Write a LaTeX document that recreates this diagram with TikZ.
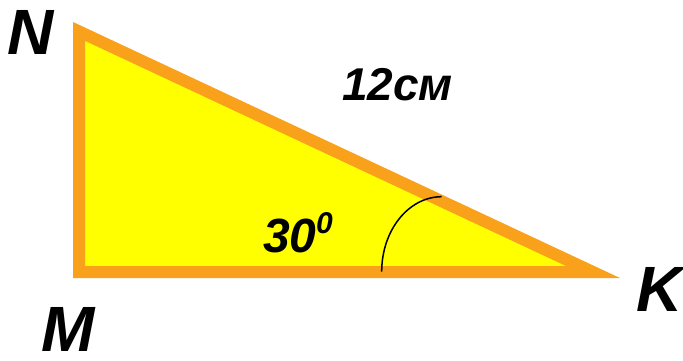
\documentclass[tikz,border=0pt]{standalone}
\usepackage{fontspec}
\setmainfont{Liberation Sans}
\definecolor{triorange}{RGB}{249,161,27}
\definecolor{triyellow}{RGB}{255,255,0}
\begin{document}
\begin{tikzpicture}[x=1pt,y=-1pt,
  lbl/.style={inner sep=0pt, anchor=base west, font=\bfseries\itshape\fontsize{64}{64}\selectfont},
  txt/.style={inner sep=0pt, anchor=base west, font=\bfseries\itshape\fontsize{46}{46}\selectfont}]
\useasboundingbox (0,0) rectangle (683,361);
\coordinate (N) at (79,31.4);
\coordinate (M) at (79,272);
\coordinate (K) at (593,272);
\filldraw[fill=triyellow, draw=triorange, line width=12pt, line join=miter] (N) -- (M) -- (K) -- cycle;
\coordinate (arcstart) at (381.7,271.7);
\draw[line width=1.5pt, black] (arcstart) arc[start angle=180, end angle=270, x radius=60, y radius=75];
\node[lbl] (lN) at (7,55) {N};
\node[lbl] (lM) at (41,351) {M};
\node[lbl] (lK) at (636,311) {K};
\node[txt] (len) at (342,100) {12см};
\node[txt, font=\bfseries\itshape\fontsize{48}{48}\selectfont] (ang) at (263,252) {30};
\node[txt, font=\bfseries\itshape\fontsize{30}{30}\selectfont] (deg) at (316,233) {0};
\end{tikzpicture}
\end{document}
